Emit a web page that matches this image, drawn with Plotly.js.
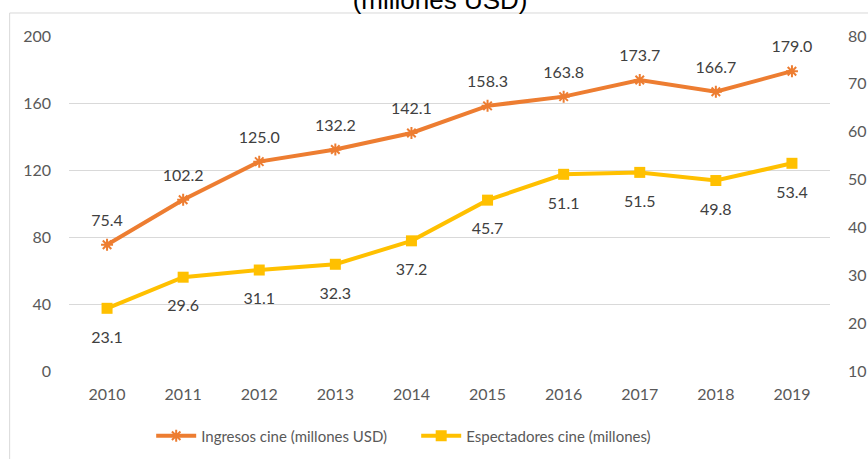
<!DOCTYPE html>
<html>
<head>
<meta charset="utf-8">
<script src="https://cdn.plot.ly/plotly-3.0.1.min.js"></script>
<style>
html,body{margin:0;padding:0;background:#fff;}
#chart{width:868px;height:459px;}
</style>
</head>
<body>
<div id="chart"></div>
<script>
const years = ['2010','2011','2012','2013','2014','2015','2016','2017','2018','2019'];
const ingresos = [75.4, 102.2, 125.0, 132.2, 142.1, 158.3, 163.8, 173.7, 166.7, 179.0];
const espectadores = [23.1, 29.6, 31.1, 32.3, 37.2, 45.7, 51.1, 51.5, 49.8, 53.4];
const nameIngresos = 'Ingresos cine (millones USD)';
const nameEspectadores = 'Espectadores cine (millones)';
const titleText = '(millones USD)';
const leftTicks = [0, 40, 80, 120, 160, 200];
const rightTicks = [10, 20, 30, 40, 50, 60, 70, 80];

const FONT = 'Lato, "Open Sans", sans-serif';
const GREY = '#595959';
const LABEL = '#404040';

const traces = [
  {
    x: years, y: ingresos, name: nameIngresos, type: 'scatter', mode: 'lines+markers',
    line: {color: '#ED7D31', width: 4},
    marker: {symbol: 'asterisk-open', size: 10, color: '#ED7D31', line: {color: '#ED7D31', width: 2}},
    cliponaxis: false, yaxis: 'y'
  },
  {
    x: years, y: espectadores, name: nameEspectadores, type: 'scatter', mode: 'lines+markers',
    line: {color: '#FFC000', width: 4},
    marker: {symbol: 'square', size: 11, color: '#FFC000'},
    cliponaxis: false, yaxis: 'y2'
  },
  // data labels (transparent markers set the label offset)
  {
    x: years, y: ingresos, type: 'scatter', mode: 'markers+text', showlegend: false, hoverinfo: 'skip',
    marker: {size: 22, color: 'rgba(0,0,0,0)'},
    text: ingresos.map(v => v.toFixed(1)), textposition: 'top center',
    textfont: {family: FONT, size: 16, color: LABEL}, cliponaxis: false, yaxis: 'y'
  },
  {
    x: years, y: espectadores, type: 'scatter', mode: 'markers+text', showlegend: false, hoverinfo: 'skip',
    marker: {size: 34, color: 'rgba(0,0,0,0)'},
    text: espectadores.map(v => v.toFixed(1)), textposition: 'bottom center',
    textfont: {family: FONT, size: 16, color: LABEL}, cliponaxis: false, yaxis: 'y2'
  }
];

const layout = {
  width: 868, height: 459,
  margin: {l: 69, r: 38, t: 36, b: 88, autoexpand: false},
  paper_bgcolor: '#fff', plot_bgcolor: '#fff',
  font: {family: FONT, size: 15, color: GREY},
  title: {text: titleText, font: {family: 'Liberation Sans, Arial, sans-serif', size: 26, color: '#000'},
          x: 0.507, xanchor: 'center', yref: 'container', y: 1.0, yanchor: 'middle'},
  showlegend: true,
  legend: {orientation: 'h', x: 0.108, xanchor: 'left', y: -0.194, yanchor: 'middle',
           font: {family: FONT, size: 15, color: GREY}, itemwidth: 40,
           entrywidth: 210, entrywidthmode: 'pixels', tracegroupgap: 0},
  xaxis: {type: 'category', range: [-0.5, 9.5], showgrid: false, zeroline: false, showline: false,
          ticks: '', ticklabelstandoff: 12, tickfont: {family: FONT, size: 16, color: GREY}, fixedrange: true},
  yaxis: {range: [0, 200], tickvals: leftTicks, showgrid: true, gridcolor: '#D9D9D9', gridwidth: 1,
          zeroline: false, showline: false, ticks: '', ticklabelstandoff: 17,
          tickfont: {family: FONT, size: 16, color: GREY}},
  yaxis2: {range: [10, 80], tickvals: rightTicks, overlaying: 'y', side: 'right', showgrid: false,
           zeroline: false, showline: false, ticks: '', ticklabelstandoff: 17,
           tickfont: {family: FONT, size: 16, color: GREY}},
  shapes: [
    {type: 'line', xref: 'paper', yref: 'paper', x0: -0.078, x1: 1.1, y0: 1.0687, y1: 1.0687, line: {color: '#D9D9D9', width: 1}},
    {type: 'line', xref: 'paper', yref: 'paper', x0: -0.078, x1: -0.078, y0: 1.0687, y1: -0.35, line: {color: '#D9D9D9', width: 1}}
  ]
};

Plotly.newPlot('chart', traces, layout, {displayModeBar: false, staticPlot: true});
</script>
</body>
</html>
